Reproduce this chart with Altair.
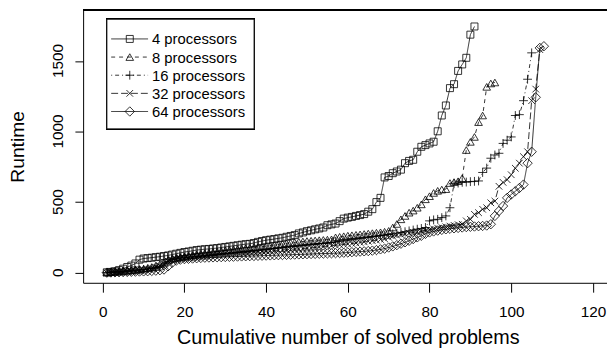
import altair as alt
import pandas as pd

# ---- data (cactus plot: sorted runtimes per configuration) ----
p4 = [2, 5, 10, 18, 28, 40, 50, 65, 92, 100, 103, 106, 110, 113, 118, 122,
      128, 134, 140, 146, 150, 155, 160, 163, 166, 168, 171, 174, 178, 182, 186,
      190, 194, 198, 202, 204, 210, 218, 224, 230, 234, 238, 243, 247, 254, 260,
      266, 278, 285, 294, 300, 307, 313, 320, 336, 342, 348, 365, 383, 390, 395,
      402, 408, 415, 432, 450, 500, 530, 675, 685, 705, 717, 730, 776, 792, 800,
      857, 892, 904, 916, 928, 1002, 1114, 1185, 1308, 1336, 1430, 1476, 1523,
      1687, 1745]
p8 = [1, 3, 5, 8, 11, 14, 17, 20, 24, 28, 33, 40, 50, 60, 72,
      90, 98, 104, 110, 115, 120, 125, 129, 133, 137, 141, 145, 149, 153, 157,
      160, 163, 166, 169, 172, 175, 178, 181, 184, 188, 192, 196, 200, 204, 208,
      212, 215, 218, 221, 224, 226, 228, 230, 232, 234, 236,
      250, 254, 258, 262, 265, 268, 271, 274, 277, 280, 283, 286, 290, 296, 320, 345,
      378, 402, 425, 440, 460, 484, 520, 542, 565, 580, 589, 592, 635, 642, 648,
      670, 869, 927, 962, 1067, 1114, 1317, 1341, 1348]
p16 = [1, 2, 4, 6, 8, 10, 13, 16, 19, 22, 26, 30, 36, 45, 60,
       80, 92, 98, 102, 106, 109, 112, 115, 118, 121, 124, 127, 130, 133, 136,
       138, 141, 144, 147, 150, 153, 156, 159, 162, 165, 168, 171, 174, 177, 180,
       183, 186, 189, 192, 195, 198, 201, 204, 207, 210, 214, 218, 222, 226, 230,
       234, 238, 242, 246, 250, 254, 258, 262, 266, 270, 275, 280,
       285, 290, 296, 302, 308, 313, 320,
       367, 374, 378, 390, 402, 460, 630, 635, 640, 642, 645, 647, 650, 710, 741,
       811, 834, 846, 916, 939, 962, 1114, 1120, 1219, 1371, 1558]
p32 = [0, 1, 2, 4, 6, 8, 10, 13, 16, 20, 25, 30, 38, 48, 62,
       82, 90, 96, 100, 103, 106, 109, 112, 115, 118, 121, 124, 127, 130, 133,
       135, 137, 139, 141, 143, 145, 147, 149, 151, 153, 155, 157, 159, 161, 163,
       165, 167, 169, 171, 173, 176, 179, 182, 185, 188, 191, 194, 197, 200, 203,
       206, 210, 214, 218, 222, 226, 230, 235, 240, 250, 258, 265,
       270, 275, 280, 285, 290, 295, 300, 305, 310, 315, 320, 325, 330, 335, 340,
       343, 367, 378, 413, 425, 449, 460, 495, 507, 612, 640, 659, 694, 740, 776,
       822, 857, 1219, 1301, 1581]
p64 = [0, 1, 2, 3, 4, 5, 6, 7, 8, 9, 10, 12, 14, 17, 22,
       45, 70, 85, 92, 96,
       98, 100, 102, 104, 106, 107, 108, 109, 110, 111, 112, 113, 114, 115, 116,
       117, 118, 119, 120, 121,
       122, 123, 124, 125, 126, 127, 128, 129, 130, 131, 132, 133, 134, 135, 136,
       137, 138, 139, 141, 143,
       145, 147, 149, 151, 153, 156, 160, 165, 170, 178, 186, 195, 205, 215, 226,
       238, 250, 261, 275, 285, 292, 298, 303, 307, 311, 314, 317, 320, 323, 325,
       327, 329, 331, 334, 343,
       402, 437, 472, 530, 554, 577, 600, 624, 776, 857, 1243, 1593, 1605]

labels = ["4 processors", "8 processors", "16 processors", "32 processors", "64 processors"]
series_values = [p4, p8, p16, p32, p64]
x_ticks = [0, 20, 40, 60, 80, 100, 120]
y_ticks = [0, 500, 1000, 1500]

# ---- styles ----
PLUS = "M-1,0L1,0M0,-1L0,1"
CROSS = "M-1,-1L1,1M-1,1L1,-1"
shapes = ["square", "triangle-up", PLUS, CROSS, "diamond"]
sizes = [50, 60, 80, 45, 90]
dashes = [[1, 0], [4, 4], [1, 3, 4, 3], [7, 3], [1, 0]]

FONT = "Liberation Sans"
W, H = 530, 276
XR = 535.6  # full R plot region width (extends beyond the visible crop)

rows = []
for lab, vals in zip(labels, series_values):
    for i, v in enumerate(vals, start=1):
        rows.append({"series": lab, "n": i, "runtime": v})
df = pd.DataFrame(rows)
ytick_df = pd.DataFrame({"runtime": y_ticks, "txt": [str(v) for v in y_ticks]})

xscale = alt.Scale(domain=[-4.8, 124.8], range=[0, XR], nice=False, zero=False)
yscale = alt.Scale(domain=[-72, 1862], nice=False, zero=False)

xenc = alt.X("n:Q", scale=xscale,
             axis=alt.Axis(values=x_ticks, title="Cumulative number of solved problems",
                           titleY=61.5, titleBaseline="alphabetic", titleAnchor="middle",
                           titleFontSize=20,
                           labelBaseline="middle", labelPadding=19.5, tickSize=9.5,
                           labelFlush=False, labelOverlap=False, format="d"))
yenc = alt.Y("runtime:Q", scale=yscale,
             axis=alt.Axis(values=y_ticks, title="Runtime", titleX=-66,
                           titleBaseline="middle", titleAngle=270, titleFontSize=19.5,
                           labels=False, tickSize=8.3))

layers = []
for lab, shp, sz, dsh in zip(labels, shapes, sizes, dashes):
    base = alt.Chart(df).transform_filter(alt.datum.series == lab)
    layers.append(base.mark_line(color="black", strokeWidth=0.8, strokeDash=dsh)
                  .encode(x=xenc, y=yenc, order="n:Q"))
    layers.append(base.mark_point(shape=shp, filled=False, size=sz, stroke="black",
                                  strokeWidth=0.8, opacity=1)
                  .encode(x=xenc, y=yenc))

# vertical (R-style) y tick labels
layers.append(alt.Chart(ytick_df).mark_text(angle=270, align="center", baseline="middle",
                                            font=FONT, fontSize=15.5, color="black")
              .encode(x=alt.value(-25), y=alt.Y("runtime:Q", scale=yscale), text="txt:N"))

# top edge of the box
layers.append(alt.Chart(df).mark_rule(color="black", strokeWidth=1)
              .encode(x=alt.value(0), x2=alt.value(W), y=alt.value(0)))

# manual R-style legend
LX0, LY0, LX1, LY1 = 24, 9.3, 173, 120.3
layers.append(alt.Chart(df).mark_rect(fill="white", stroke="black", strokeWidth=1)
              .encode(x=alt.value(LX0), x2=alt.value(LX1), y=alt.value(LY0), y2=alt.value(LY1)))
for k, (lab, shp, sz, dsh) in enumerate(zip(labels, shapes, sizes, dashes)):
    yy = 29.3 + k * 18.35
    one = alt.Chart(pd.DataFrame({"label": [lab]}))
    layers.append(one.mark_rule(color="black", strokeWidth=0.8, strokeDash=dsh)
                  .encode(x=alt.value(28.4), x2=alt.value(65.7), y=alt.value(yy)))
    layers.append(one.mark_point(shape=shp, filled=False, size=sz, stroke="black",
                                 strokeWidth=0.8, opacity=1)
                  .encode(x=alt.value(47.2), y=alt.value(yy)))
    layers.append(one.mark_text(align="left", baseline="middle", font=FONT, fontSize=15,
                                color="black")
                  .encode(x=alt.value(69.7), y=alt.value(yy + 0.5), text="label:N"))

chart = alt.layer(*layers).properties(
    width=W, height=H,
    autosize=alt.AutoSizeParams(type="none"),
    padding={"left": 76, "top": 0, "right": 0, "bottom": 66},
).configure_view(stroke=None).configure_axis(
    grid=False, domainColor="black", tickColor="black", domainWidth=1, tickWidth=1,
    labelColor="black", titleColor="black", labelFont=FONT, titleFont=FONT,
    labelFontSize=15.5, titleFontWeight="normal",
)

chart.save("out.html", embed_options={"renderer": "svg", "actions": False})
